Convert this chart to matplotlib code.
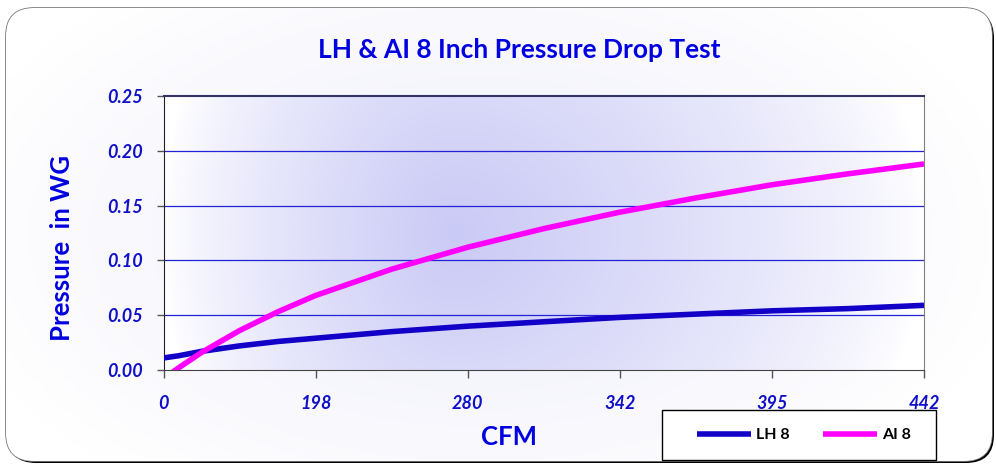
import numpy as np
import matplotlib
matplotlib.use('Agg')
import matplotlib.pyplot as plt
from matplotlib.patches import FancyBboxPatch, Rectangle

plt.rcParams['font.family'] = ['Lato', 'DejaVu Sans']

# Category labels on the x axis (CFM)
cfm_labels = ['0', '198', '280', '342', '395', '442']

pos = [0, 0.1, 0.25, 0.5, 0.75, 1, 1.5, 2, 2.5, 3, 3.5, 4, 4.5, 5]
lh8 = [0.011, 0.013, 0.017, 0.022, 0.026, 0.029, 0.035, 0.040, 0.044, 0.048, 0.051, 0.054, 0.056, 0.059]
ai8 = [-0.008, 0.002, 0.016, 0.036, 0.053, 0.068, 0.092, 0.112, 0.129, 0.144, 0.157, 0.169, 0.179, 0.188]

W, H = 996, 466
fig = plt.figure(figsize=(W / 100, H / 100), dpi=100)

# background layer in pixel units
bg = fig.add_axes([0, 0, 1, 1], zorder=-1)
bg.set_xlim(0, W)
bg.set_ylim(H, 0)
bg.axis('off')

shadow = FancyBboxPatch((8, 10), 986, 453, boxstyle='round,pad=0,rounding_size=28',
                        fc='black', ec='none')
bg.add_patch(shadow)
frame = FancyBboxPatch((6, 8), 986, 453, boxstyle='round,pad=0,rounding_size=28',
                       fc='white', ec='#777777', lw=1.2)
bg.add_patch(frame)

# faint gradient of the chart area
gx, gy = np.meshgrid(np.linspace(0, 1, 300), np.linspace(0, 1, 150))
r = np.sqrt(((gx - 0.48) / 0.55) ** 2 + ((gy - 0.5) / 0.7) ** 2)
t = np.clip(1 - r, 0, 1) * 0.6
c0 = np.array([225, 225, 248]) / 255
img = np.ones((150, 300, 3)) * (1 - t[..., None]) + c0 * t[..., None]
im = bg.imshow(img, extent=(6, 992, 461, 8), aspect='auto', zorder=1)
im.set_clip_path(frame)

# legend box
bg.add_patch(Rectangle((662, 410), 274, 50, fc='white', ec='black', lw=1, zorder=3))

# main plot area
ax = fig.add_axes([163.5 / W, 1 - 370 / H, (924 - 163.5) / W, (370 - 96) / H])
ax.patch.set_alpha(0)

px, py = np.meshgrid(np.linspace(0, 1, 400), np.linspace(0, 1, 200))
cx = 0.38
dx = np.where(px < cx, (px - cx) / cx, (px - cx) / (1 - cx))
dy = (py - 0.5) / 0.5
r = np.sqrt(dx ** 2 + (dy * 0.35) ** 2)
t = np.clip(1 - r, 0, 1) ** 0.75
c1 = np.array([202, 202, 246]) / 255
img = np.ones((200, 400, 3)) * (1 - t[..., None]) + c1 * t[..., None]
ax.imshow(img, extent=(0, 5, 0, 0.25), aspect='auto', zorder=0)

for yv in [0.05, 0.10, 0.15, 0.20]:
    ax.axhline(yv, color='#2222d6', lw=0.9, zorder=1)

l1, = ax.plot(pos, lh8, color='#1200c8', lw=4, solid_capstyle='butt', zorder=3, label='LH 8')
l2, = ax.plot(pos, ai8, color='#ff00ff', lw=4, solid_capstyle='butt', zorder=3, label='AI 8')

ax.set_xlim(0, 5)
ax.set_ylim(0, 0.25)
ax.set_xticks(range(len(cfm_labels)))
ax.set_xticklabels(cfm_labels)
ax.set_yticks([0, 0.05, 0.10, 0.15, 0.20, 0.25])
ax.set_yticklabels(['0.00', '0.05', '0.10', '0.15', '0.20', '0.25'])

tick_color = '#1010c8'
for lab in ax.get_xticklabels() + ax.get_yticklabels():
    lab.set_fontsize(13)
    lab.set_fontweight('bold')
    lab.set_fontstyle('italic')
    lab.set_color(tick_color)
ax.tick_params(axis='y', direction='out', length=5, width=1, color='#555555', pad=10)
ax.tick_params(axis='x', direction='out', length=6, width=1, color='#555555', pad=12)

ax.spines['left'].set_color('#222222')
ax.spines['bottom'].set_color('#444444')
ax.spines['top'].set_color('#333366')
ax.spines['top'].set_linewidth(1.5)
ax.spines['right'].set_color('#808080')

blue = '#0000e0'
fig.text(519 / W, 1 - 50 / H, 'LH & AI 8 Inch Pressure Drop Test', ha='center', va='center',
         fontsize=19, fontweight='bold', color=blue)
fig.text(62 / W, 1 - 248 / H, 'Pressure  in WG', ha='center', va='center', rotation=90,
         fontsize=18.5, fontweight='bold', color=blue)
fig.text(509 / W, 1 - 437 / H, 'CFM', ha='center', va='center',
         fontsize=18.5, fontweight='bold', color=blue)

leg = fig.legend([l1, l2], ['LH 8', 'AI 8'], loc='center',
                 bbox_to_anchor=(804 / W, 1 - 435 / H),
                 ncol=2, frameon=False, handlelength=3.4,
                 handletextpad=0.3, columnspacing=2.1,
                 prop={'weight': 'bold', 'size': 11.5})

fig.savefig('out.png', dpi=100)
